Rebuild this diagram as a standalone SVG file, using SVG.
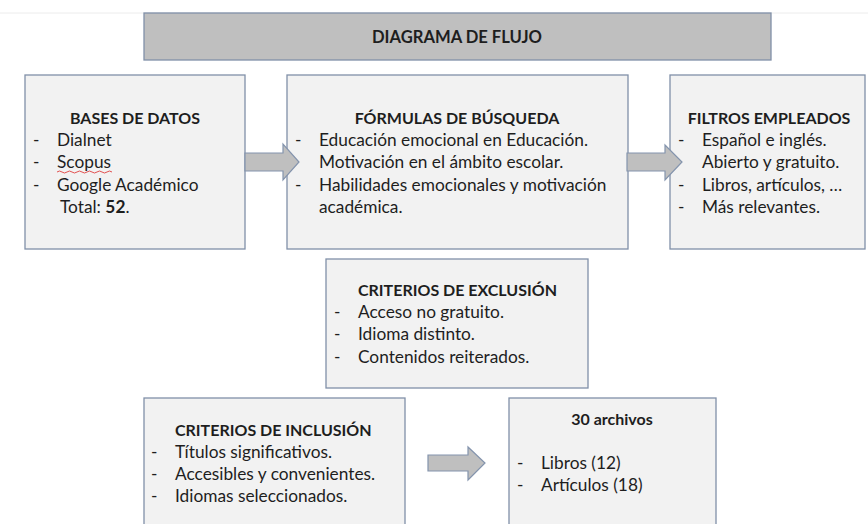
<svg xmlns="http://www.w3.org/2000/svg" width="868" height="524" viewBox="0 0 868 524">
<style>
.box{fill:#f2f2f2;stroke:#8090a8;stroke-width:1.3}
.title{fill:#bfbfbf;stroke:#8090a8;stroke-width:1.3}
.arrow{fill:#bfbfbf;stroke:#8494ad;stroke-width:1.2;stroke-linejoin:miter}
text{font-family:Lato,"Open Sans","Liberation Sans",sans-serif;font-size:17.3px;fill:#1e1e1e}
.b{font-weight:bold;font-size:16px}
.t{font-size:16.6px}
.c{text-anchor:middle}
</style>
<rect width="868" height="524" fill="#ffffff"/>
<line x1="0" y1="13" x2="868" y2="13" stroke="#ececec" stroke-width="1"/>
<g id="title">
<rect class="title" x="144" y="13" width="627" height="47"/>
<text class="b c t" x="457" y="43">DIAGRAMA DE FLUJO</text>
</g>
<g id="bases">
<rect class="box" x="25" y="75" width="220" height="174"/>
<text class="b c" x="135" y="124">BASES DE DATOS</text>
<text x="33" y="146">-</text><text x="57" y="146">Dialnet</text>
<text x="33" y="168">-</text><text x="57" y="168">Scopus</text>
<path d="M57 172 q2.5 -2 5 0 t5 0 t5 0 t5 0 t5 0 t5 0 t5 0 t5 0 t5 0 t5 0 t5 0" fill="none" stroke="#e04040" stroke-width="0.9"/>
<text x="33" y="191">-</text><text x="57" y="191">Google Académico</text>
<text x="60" y="213">Total: <tspan font-weight="bold">52</tspan>.</text>
</g>
<g id="formulas">
<rect class="box" x="287" y="75" width="341" height="174"/>
<text class="b c" x="457" y="124">FÓRMULAS DE BÚSQUEDA</text>
<text x="295" y="146">-</text><text x="319" y="146">Educación emocional en Educación.</text>
<text x="319" y="168">Motivación en el ámbito escolar.</text>
<text x="295" y="191">-</text><text x="319" y="191">Habilidades emocionales y motivación</text>
<text x="319" y="213">académica.</text>
</g>
<g id="filtros">
<rect class="box" x="670" y="75" width="195" height="174"/>
<text class="b c" x="769" y="124">FILTROS EMPLEADOS</text>
<text x="678" y="146">-</text><text x="702" y="146">Español e inglés.</text>
<text x="702" y="168">Abierto y gratuito.</text>
<text x="678" y="191">-</text><text x="702" y="191">Libros, artículos, …</text>
<text x="678" y="213">-</text><text x="702" y="213">Más relevantes.</text>
</g>
<g id="exclusion">
<rect class="box" x="326" y="259" width="262" height="129"/>
<text class="b" x="358" y="296">CRITERIOS DE EXCLUSIÓN</text>
<text x="334" y="318">-</text><text x="358" y="318">Acceso no gratuito.</text>
<text x="334" y="340">-</text><text x="358" y="340">Idioma distinto.</text>
<text x="334" y="363">-</text><text x="358" y="363">Contenidos reiterados.</text>
</g>
<g id="inclusion">
<rect class="box" x="144" y="398" width="261" height="140"/>
<text class="b" x="175" y="436">CRITERIOS DE INCLUSIÓN</text>
<text x="151" y="458">-</text><text x="175" y="458">Títulos significativos.</text>
<text x="151" y="480">-</text><text x="175" y="480">Accesibles y convenientes.</text>
<text x="151" y="502">-</text><text x="175" y="502">Idiomas seleccionados.</text>
</g>
<g id="archivos">
<rect class="box" x="509" y="398" width="207" height="140"/>
<text class="b c" x="612" y="425">30 archivos</text>
<text x="517" y="469">-</text><text x="541" y="469">Libros (12)</text>
<text x="517" y="491">-</text><text x="541" y="491">Artículos (18)</text>
</g>
<g id="connectors">
<polygon class="arrow" points="245,153 283,153 283,144 299,162 283,180 283,171 245,171"/>
<polygon class="arrow" points="627,153 665,153 665,145 682,162 665,180 665,171 627,171"/>
<polygon class="arrow" points="428,455 468,455 468,447 485,463 468,480 468,471 428,471"/>
</g>
</svg>
